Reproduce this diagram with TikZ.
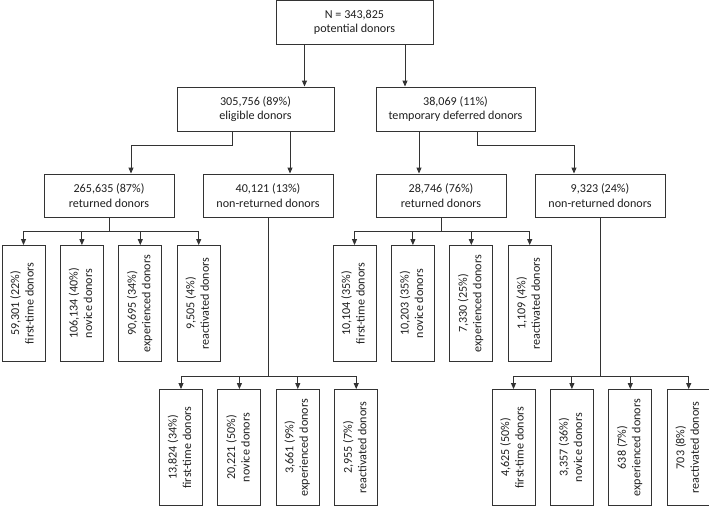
\documentclass[tikz,border=0pt]{standalone}
\usepackage{fontspec}
\setmainfont{Carlito}
\usetikzlibrary{positioning, arrows.meta}
\newcommand{\lft}[2]{\rotatebox{90}{\begin{tabular}{@{}c@{}}#1\\#2\end{tabular}}}

\begin{document}
\begin{tikzpicture}[
                    x=1pt, y=-1pt,
                    font=\fontsize{12.1}{14.5}\selectfont,
                    node distance=14.5pt,
                    >={Triangle[length=6pt,width=5pt]},
                    box/.style={draw=black!80, line width=0.9pt, align=center, inner sep=0pt, text=black!88},
                    wide/.style={box, minimum width=157pt, minimum height=44pt},
                    mid/.style={box, minimum width=130pt, minimum height=43pt},
                    leaf/.style={box, minimum width=43pt, minimum height=116pt},
                    link/.style={draw=black!80, line width=0.9pt}
                ]
                    \useasboundingbox (0,0) rectangle (709,507);
                    \node[wide] (pot) at (354.5,22.5) {N = 343,825\\potential donors};
                    \node[wide] (elig) at (255.5,109) {305,756 (89\%)\\eligible donors};
                    \node[wide, minimum width=159pt] (def) at (455.5,109) {38,069 (11\%)\\temporary deferred donors};
                    \node[mid] (elret) at (109,195.5) {265,635 (87\%)\\returned donors};
                    \node[mid] (elnon) at (268,195.5) {40,121 (13\%)\\non-returned donors};
                    \node[mid] (deret) at (441,195.5) {28,746 (76\%)\\returned donors};
                    \node[mid] (denon) at (600,195.5) {9,323 (24\%)\\non-returned donors};

                    \node[leaf] (a1) at (23.5,303.5) {\lft{59,301 (22\%)}{first-time donors}};
                    \node[leaf, right=of a1] (a2) {\lft{106,134 (40\%)}{novice donors}};
                    \node[leaf, right=of a2] (a3) {\lft{90,695 (34\%)}{experienced donors}};
                    \node[leaf, right=of a3] (a4) {\lft{9,505 (4\%)}{reactivated donors}};
                    \node[leaf] (c1) at (354.5,303.5) {\lft{10,104 (35\%)}{first-time donors}};
                    \node[leaf, right=of c1] (c2) {\lft{10,203 (35\%)}{novice donors}};
                    \node[leaf, right=of c2] (c3) {\lft{7,330 (25\%)}{experienced donors}};
                    \node[leaf, right=of c3] (c4) {\lft{1,109 (4\%)}{reactivated donors}};
                    \node[leaf] (b1) at (181,447.5) {\lft{13,824 (34\%)}{first-time donors}};
                    \node[leaf, right=of b1] (b2) {\lft{20,221 (50\%)}{novice donors}};
                    \node[leaf, right=of b2] (b3) {\lft{3,661 (9\%)}{experienced donors}};
                    \node[leaf, right=of b3] (b4) {\lft{2,955 (7\%)}{reactivated donors}};
                    \node[leaf] (d1) at (513.5,447.5) {\lft{4,625 (50\%)}{first-time donors}};
                    \node[leaf, right=of d1] (d2) {\lft{3,357 (36\%)}{novice donors}};
                    \node[leaf, right=of d2] (d3) {\lft{638 (7\%)}{experienced donors}};
                    \node[leaf, right=of d3] (d4) {\lft{703 (8\%)}{reactivated donors}};

                    \draw[link, ->] ([xshift=-50pt]pot.south) -- ([xshift=-50pt]pot.south |- elig.north);
                    \draw[link, ->] ([xshift=50.5pt]pot.south) -- ([xshift=50.5pt]pot.south |- def.north);
                    \draw[link, ->] ([xshift=-23.5pt]elig.south) -- ++(0,14) -| ([xshift=22pt]elret.north);
                    \draw[link, ->] ([xshift=34.5pt]elig.south) -- ([xshift=34.5pt]elig.south |- elnon.north);
                    \draw[link, ->] ([xshift=-36.5pt]def.south) -- ([xshift=-36.5pt]def.south |- deret.north);
                    \draw[link, ->] ([xshift=21.5pt]def.south) -- ++(0,14) -| ([xshift=-26pt]denon.north);

                    \draw[link] (elret.south) -- ++(0,14) coordinate (ja);
                    \draw[link] (deret.south) -- ++(0,14) coordinate (jc);
                    \draw[link] (elnon.south) -- ++(0,159) coordinate (jb);
                    \draw[link] (denon.south) -- ++(0,159) coordinate (jd);
                    \foreach \g in {a,b,c,d} {
                        \draw[link] (\g1.north |- j\g) -- (\g4.north |- j\g);
                        \foreach \i in {1,...,4}
                            \draw[link, ->] (\g\i.north |- j\g) -- (\g\i.north);
                    }
                \end{tikzpicture}
\end{document}
